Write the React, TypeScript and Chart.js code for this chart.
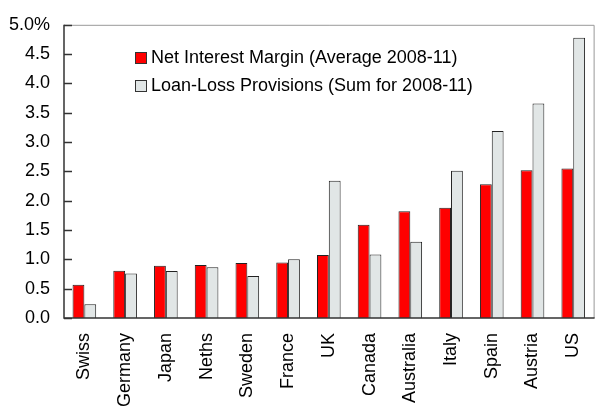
import React, { useEffect, useRef } from "react";
import { Chart, registerables } from "chart.js";

Chart.register(...registerables);

const categories = ["Swiss", "Germany", "Japan", "Neths", "Sweden", "France", "UK", "Canada", "Australia", "Italy", "Spain", "Austria", "US"];
const netInterestMargin = [0.565, 0.805, 0.89, 0.905, 0.94, 0.945, 1.075, 1.59, 1.82, 1.88, 2.28, 2.52, 2.55];
const loanLossProvisions = [0.235, 0.76, 0.8, 0.865, 0.715, 1.0, 2.34, 1.085, 1.3, 2.51, 3.19, 3.66, 4.78];
const yTickLabels = ["0.0", "0.5", "1.0", "1.5", "2.0", "2.5", "3.0", "3.5", "4.0", "4.5", "5.0%"];
const seriesLabels = ["Net Interest Margin (Average 2008-11)", "Loan-Loss Provisions (Sum for 2008-11)"];

const FONT = "'Liberation Sans Narrow', 'Arial Narrow', 'Liberation Sans', Arial, sans-serif";

const framePlugin = {
  id: "frame",
  afterDraw(chart: any) {
    const { ctx, chartArea } = chart;
    const { left, top, right, bottom } = chartArea;
    ctx.save();
    // top and right frame in gray
    ctx.strokeStyle = "#999999";
    ctx.lineWidth = 1;
    ctx.beginPath();
    ctx.moveTo(left, top + 0.5);
    ctx.lineTo(right + 0.5, top + 0.5);
    ctx.lineTo(right + 0.5, bottom);
    ctx.stroke();
    // left and bottom axes in dark
    ctx.strokeStyle = "#333333";
    ctx.lineWidth = 1.5;
    ctx.beginPath();
    ctx.moveTo(left, top);
    ctx.lineTo(left, bottom);
    ctx.lineTo(right + 1, bottom);
    ctx.stroke();
    // inward y ticks
    const ys = chart.scales.y;
    ys.ticks.forEach((t: any) => {
      const py = Math.round(ys.getPixelForValue(t.value)) + 0.5;
      ctx.beginPath();
      ctx.moveTo(left, py);
      ctx.lineTo(left + 8, py);
      ctx.stroke();
    });
    // legend
    ctx.font = `18px ${FONT}`;
    ctx.textBaseline = "middle";
    ctx.textAlign = "left";
    chart.data.datasets.forEach((ds: any, i: number) => {
      const bx = 135;
      const by = 52 + i * 28;
      ctx.fillStyle = ds.backgroundColor;
      ctx.fillRect(bx, by, 12, 12);
      ctx.strokeStyle = "#333333";
      ctx.lineWidth = 1;
      ctx.strokeRect(bx + 0.5, by + 0.5, 11, 11);
      ctx.fillStyle = "#000000";
      ctx.fillText(ds.label, bx + 16, by + 6);
    });
    ctx.restore();
  },
};

export default function App() {
  const ref = useRef<HTMLCanvasElement>(null);
  useEffect(() => {
    document.body.style.margin = "0";
    const chart = new Chart(ref.current!, {
      type: "bar",
      data: {
        labels: categories,
        datasets: [
          {
            label: seriesLabels[0],
            data: netInterestMargin,
            backgroundColor: "#FF0000",
            borderColor: "#222222",
            borderWidth: 1,
            borderSkipped: "bottom",
          },
          {
            label: seriesLabels[1],
            data: loanLossProvisions,
            backgroundColor: "#E1E6E6",
            borderColor: "#222222",
            borderWidth: 1,
            borderSkipped: "bottom",
          },
        ],
      },
      options: {
        animation: false,
        responsive: false,
        maintainAspectRatio: false,
        layout: { padding: { top: 20, right: 4, left: 0, bottom: 0 } },
        plugins: { legend: { display: false }, tooltip: { enabled: false } },
        datasets: { bar: { categoryPercentage: 0.58, barPercentage: 1 } },
        scales: {
          x: {
            grid: { display: false, drawTicks: false },
            border: { display: false },
            ticks: {
              color: "#000000",
              font: { family: FONT, size: 18 },
              minRotation: 90,
              maxRotation: 90,
              padding: 15,
              autoSkip: false,
            },
            afterFit: (s: any) => {
              s.height = 94;
            },
          },
          y: {
            min: 0,
            max: 5,
            grid: { display: false, drawTicks: false },
            border: { display: false },
            ticks: {
              stepSize: 0.5,
              color: "#000000",
              font: { family: FONT, size: 18 },
              padding: 14,
              callback: (_v: any, i: number) => yTickLabels[i],
            },
            afterFit: (s: any) => {
              s.width = 64;
            },
          },
        },
      },
      plugins: [framePlugin],
    });
    return () => chart.destroy();
  }, []);
  return (
    <div style={{ width: 610, height: 412 }}>
      <canvas ref={ref} width={610} height={412} style={{ display: "block" }} />
    </div>
  );
}
